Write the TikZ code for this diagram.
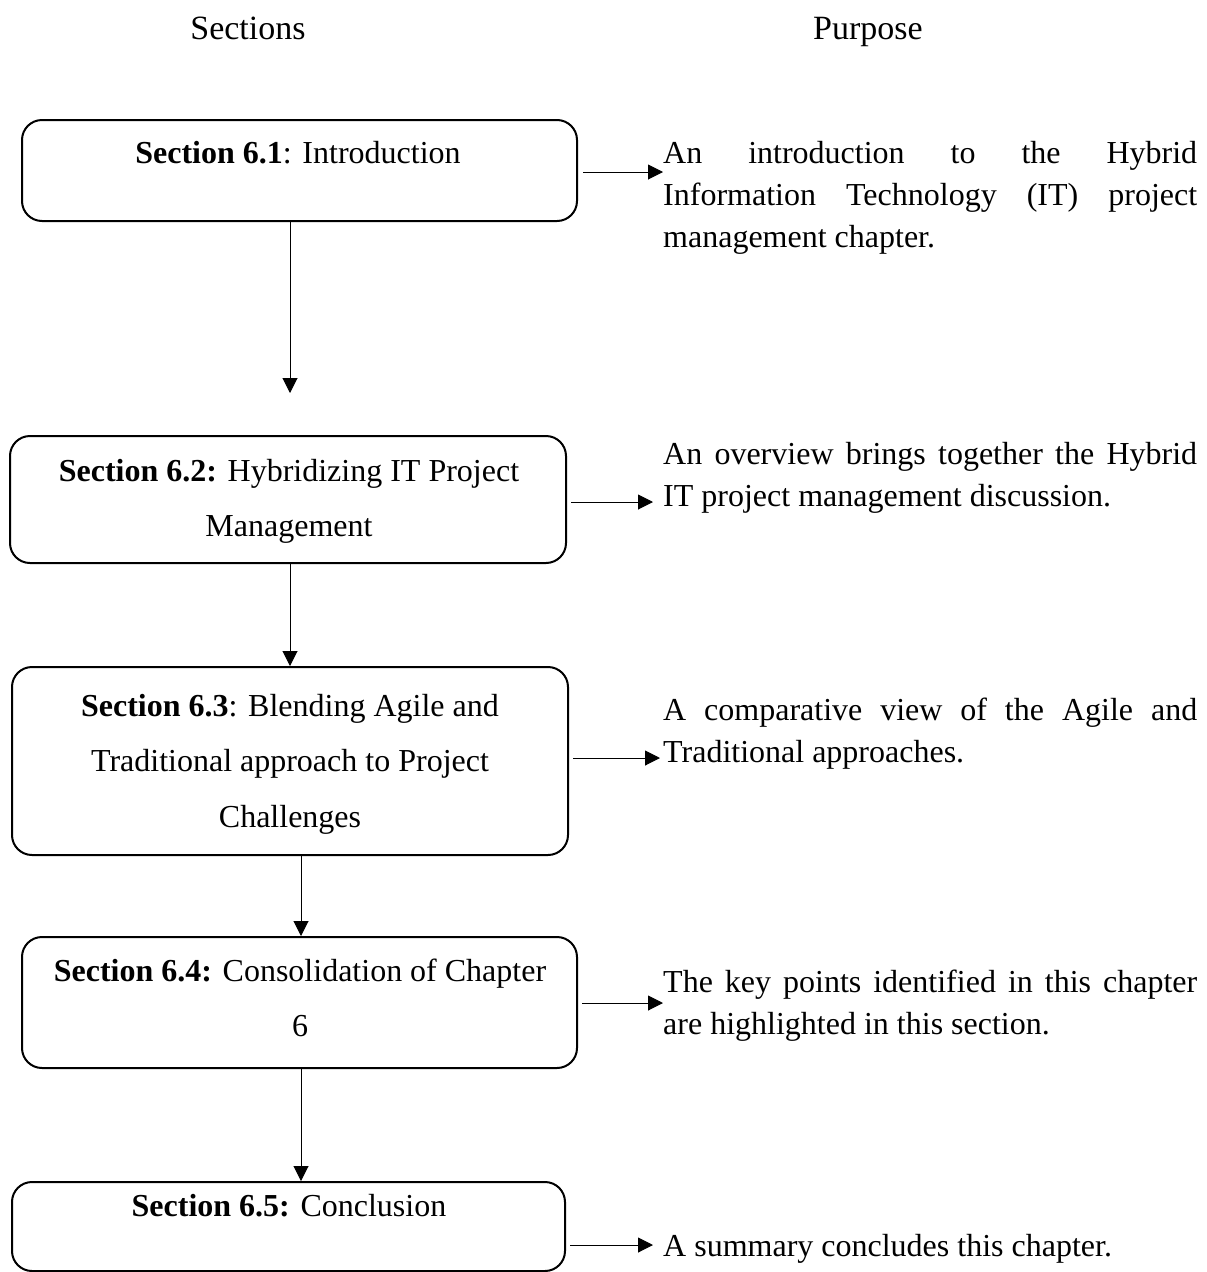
\documentclass[tikz,border=0pt]{standalone}
\usepackage{fontspec}
\setmainfont{Liberation Serif}
\usetikzlibrary{arrows.meta}

% stacked lines whose baseline is that of the first line
\newcommand\centerlines[1]{\vtop{\halign{\hfil##\hfil\cr#1\crcr}}}
\newcommand\leftlines[1]{\vtop{\halign{##\hfil\cr#1\crcr}}}
% a line spread to the full column width
\newcommand\fullline[1]{\makebox[534pt][s]{#1}}

\begin{document}
\begin{tikzpicture}[x=1pt,y=-1pt,
  secbox/.style={draw, line width=2pt, rounded corners=20pt, inner sep=0pt},
  flow/.style={-{Triangle[length=15pt,width=15pt]}, line width=1pt},
  boxtext/.style={anchor=base, inner sep=0pt, font=\fontsize{32}{55.5}\selectfont},
  purpose/.style={anchor=base west, inner sep=0pt, font=\fontsize{32}{42}\selectfont},
  heading/.style={anchor=base, inner sep=0pt, font=\fontsize{34}{40}\selectfont}]
\useasboundingbox (0,0) rectangle (1207,1272);

% column headings
\node[heading] (hsec) at (248,39) {Sections};
\node[heading] (hpur) at (868,39) {Purpose};

% section boxes
\node[secbox, minimum width=555pt, minimum height=101pt] (b1) at (299.5,170.5) {};
\node[secbox, minimum width=556pt, minimum height=127pt] (b2) at (288,499.5) {};
\node[secbox, minimum width=556pt, minimum height=188pt] (b3) at (290,761) {};
\node[secbox, minimum width=555pt, minimum height=131pt] (b4) at (299.5,1002.5) {};
\node[secbox, minimum width=553pt, minimum height=89pt] (b5) at (288.5,1226.5) {};

% section titles
\node[boxtext] (t1) at (298,163) {\centerlines{\textbf{Section 6.1}: Introduction}};
\node[boxtext] (t2) at (289,481) {\centerlines{\textbf{Section 6.2:} Hybridizing IT Project\cr Management}};
\node[boxtext] (t3) at (290,716) {\centerlines{\textbf{Section 6.3}: Blending Agile and\cr Traditional approach to Project\cr Challenges}};
\node[boxtext] (t4) at (300,981) {\centerlines{\textbf{Section 6.4:} Consolidation of Chapter\cr 6}};
\node[boxtext] (t5) at (289,1216) {\centerlines{\textbf{Section 6.5:} Conclusion}};

% purpose texts
\node[purpose] (p1) at (663,163) {\leftlines{\fullline{An introduction to the Hybrid}\cr
  \fullline{Information Technology (IT) project}\cr management chapter.}};
\node[purpose] (p2) at (663,464) {\leftlines{\fullline{An overview brings together the Hybrid}\cr
  IT project management discussion.}};
\node[purpose] (p3) at (663,720) {\leftlines{\fullline{A comparative view of the Agile and}\cr
  Traditional approaches.}};
\node[purpose] (p4) at (663,992) {\leftlines{\fullline{The key points identified in this chapter}\cr
  are highlighted in this section.}};
\node[purpose] (p5) at (663,1256) {A summary concludes this chapter.};

% arrows from each section to its purpose
\coordinate (h1) at (663,172);
\coordinate (h2) at (653,502);
\coordinate (h3) at (660,758);
\coordinate (h4) at (663,1003);
\coordinate (h5) at (653,1245);
\draw[flow, shorten <=5pt] (b1.east |- h1) -- (h1);
\draw[flow, shorten <=4pt] (b2.east |- h2) -- (h2);
\draw[flow, shorten <=4pt] (b3.east |- h3) -- (h3);
\draw[flow, shorten <=4pt] (b4.east |- h4) -- (h4);
\draw[flow, shorten <=4pt] (b5.east |- h5) -- (h5);

% flow between sections
\coordinate (v1) at (290,393);
\coordinate (v2) at (290,0);
\coordinate (v3) at (301,0);
\draw[flow] (b1.south -| v1) -- (v1);
\draw[flow] (b2.south -| v2) -- (b3.north -| v2);
\draw[flow] (b3.south -| v3) -- (b4.north -| v3);
\draw[flow] (b4.south -| v3) -- (b5.north -| v3);
\end{tikzpicture}
\end{document}
